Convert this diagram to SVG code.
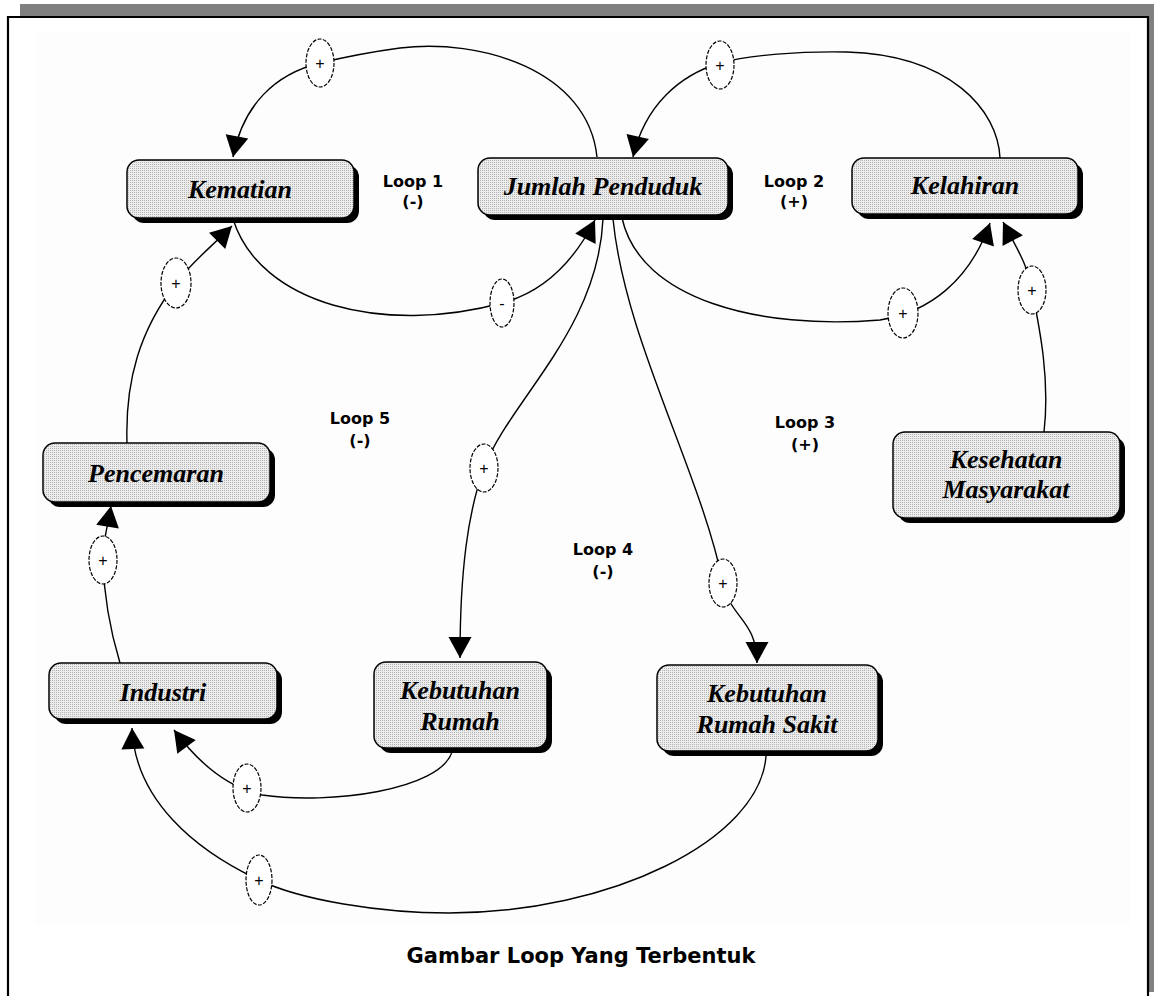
<svg xmlns="http://www.w3.org/2000/svg" width="1154" height="996" viewBox="0 0 1154 996">
<defs>
<pattern id="dots" patternUnits="userSpaceOnUse" width="2" height="2">
<rect width="2" height="2" fill="#ececec"/>
<rect width="1" height="1" fill="#b4b4b4"/>
</pattern>
<marker id="ah" markerUnits="userSpaceOnUse" markerWidth="26" markerHeight="26" viewBox="-23 -13 26 26" refX="0" refY="0" orient="auto">
<path d="M0,0 L-21,-11.5 L-21,11.5 Z" fill="#000"/>
</marker>
<style>
.shadow{fill:#000}
.box{fill:url(#dots);stroke:#000;stroke-width:1.5}
.lbl{font-family:"Liberation Serif",serif;font-style:italic;font-weight:bold;font-size:26px;text-anchor:middle;fill:#000}
.conn path{fill:none;stroke:#000;stroke-width:1.4;marker-end:url(#ah)}
.pol ellipse{fill:#fff;stroke:#000;stroke-width:1.2;stroke-dasharray:4 1.5}
.pol text{font-family:"Liberation Sans",sans-serif;font-size:16px;text-anchor:middle;fill:#000}
.loop{font-family:"DejaVu Sans",sans-serif;font-weight:bold;font-size:16px;text-anchor:middle;fill:#000}
.cap{font-family:"DejaVu Sans",sans-serif;font-weight:bold;font-size:21px;text-anchor:middle;fill:#000}
</style>
</defs>
<rect width="1154" height="996" fill="#fff"/>
<g id="frame">
<rect x="20" y="4" width="1134" height="12" fill="#808080"/>
<rect x="1149" y="16" width="5" height="976" fill="#808080"/>
<rect x="35" y="32" width="1095" height="893" fill="#fdfdfd"/>
<path d="M8,996 V17 H1148 V996" fill="none" stroke="#000" stroke-width="2.2"/>
</g>
<g id="connectors" class="conn">
<path d="M597,157 C588,70 480,38 400,48 C370,52 345,57 320,63 C275,74 243,105 233,157"/>
<path d="M233,219 C260,305 385,335 502,303 C540,293 572,265 595,220"/>
<path d="M1000,158 C998,110 950,55 847,52 C800,51 750,55 720,63 C680,75 645,105 633,157"/>
<path d="M622,218 C640,300 760,330 880,320 C930,312 970,280 990,223"/>
<path d="M1044,432 C1050,380 1040,330 1032,290 C1028,265 1015,245 1003,222"/>
<path d="M120,663 C110,630 104,600 103,560 C103,540 107,530 111,506"/>
<path d="M127,443 C125,380 140,330 176,283 C192,262 210,248 232,226"/>
<path d="M603,219 C598,330 510,400 484,468 C468,512 460,570 460,658"/>
<path d="M613,219 C625,340 700,470 723,583 C730,618 757,620 757,663"/>
<path d="M452,752 C440,790 330,805 262,795 C230,788 200,765 174,730"/>
<path d="M766,756 C760,840 610,913 449,913 C380,913 300,900 259,880 C195,850 135,800 132,728"/>
<g class="pol">
<ellipse cx="320" cy="63" rx="14" ry="24"/><text x="320" y="69">+</text>
<ellipse cx="502" cy="303" rx="12" ry="24"/><text x="502" y="309">-</text>
<ellipse cx="720" cy="65" rx="14" ry="24"/><text x="720" y="71">+</text>
<ellipse cx="903" cy="313" rx="15" ry="25"/><text x="903" y="319">+</text>
<ellipse cx="1032" cy="290" rx="14" ry="24"/><text x="1032" y="296">+</text>
<ellipse cx="103" cy="560" rx="14" ry="24"/><text x="103" y="566">+</text>
<ellipse cx="176" cy="283" rx="15" ry="25"/><text x="176" y="289">+</text>
<ellipse cx="484" cy="468" rx="14" ry="24"/><text x="484" y="474">+</text>
<ellipse cx="723" cy="583" rx="14" ry="24"/><text x="723" y="589">+</text>
<ellipse cx="247" cy="788" rx="14" ry="24"/><text x="247" y="794">+</text>
<ellipse cx="259" cy="880" rx="13" ry="25"/><text x="259" y="886">+</text>
</g>
</g>
<g id="n-kematian"><rect class="shadow" x="132" y="165" width="227" height="58" rx="12"/><rect class="box" x="127" y="160" width="227" height="58" rx="12"/><text class="lbl" x="240" y="198">Kematian</text></g>
<g id="n-jumlah"><rect class="shadow" x="483" y="163" width="250" height="57" rx="12"/><rect class="box" x="478" y="158" width="250" height="57" rx="12"/><text class="lbl" x="603" y="195">Jumlah Penduduk</text></g>
<g id="n-kelahiran"><rect class="shadow" x="857" y="163" width="226" height="56" rx="12"/><rect class="box" x="852" y="158" width="226" height="56" rx="12"/><text class="lbl" x="965" y="194">Kelahiran</text></g>
<g id="n-pencemaran"><rect class="shadow" x="48" y="448" width="227" height="59" rx="12"/><rect class="box" x="43" y="443" width="227" height="59" rx="12"/><text class="lbl" x="156" y="482">Pencemaran</text></g>
<g id="n-industri"><rect class="shadow" x="54" y="668" width="228" height="56" rx="12"/><rect class="box" x="49" y="663" width="228" height="56" rx="12"/><text class="lbl" x="163" y="701">Industri</text></g>
<g id="n-kebrumah"><rect class="shadow" x="379" y="667" width="173" height="86" rx="12"/><rect class="box" x="374" y="662" width="173" height="86" rx="12"/><text class="lbl" x="460" y="699">Kebutuhan</text><text class="lbl" x="460" y="730">Rumah</text></g>
<g id="n-kebrs"><rect class="shadow" x="662" y="670" width="221" height="86" rx="12"/><rect class="box" x="657" y="665" width="221" height="86" rx="12"/><text class="lbl" x="767" y="702">Kebutuhan</text><text class="lbl" x="767" y="733">Rumah Sakit</text></g>
<g id="n-kesehatan"><rect class="shadow" x="898" y="437" width="227" height="86" rx="12"/><rect class="box" x="893" y="432" width="227" height="86" rx="12"/><text class="lbl" x="1006" y="468">Kesehatan</text><text class="lbl" x="1006" y="498">Masyarakat</text></g>
<g id="loops">
<text class="loop" x="413" y="187">Loop 1</text><text class="loop" x="413" y="207">(-)</text>
<text class="loop" x="794" y="187">Loop 2</text><text class="loop" x="794" y="207">(+)</text>
<text class="loop" x="360" y="424">Loop 5</text><text class="loop" x="360" y="446">(-)</text>
<text class="loop" x="805" y="428">Loop 3</text><text class="loop" x="805" y="450">(+)</text>
<text class="loop" x="603" y="555">Loop 4</text><text class="loop" x="603" y="577">(-)</text>
</g>
<text class="cap" x="581" y="963">Gambar Loop Yang Terbentuk</text>
</svg>
